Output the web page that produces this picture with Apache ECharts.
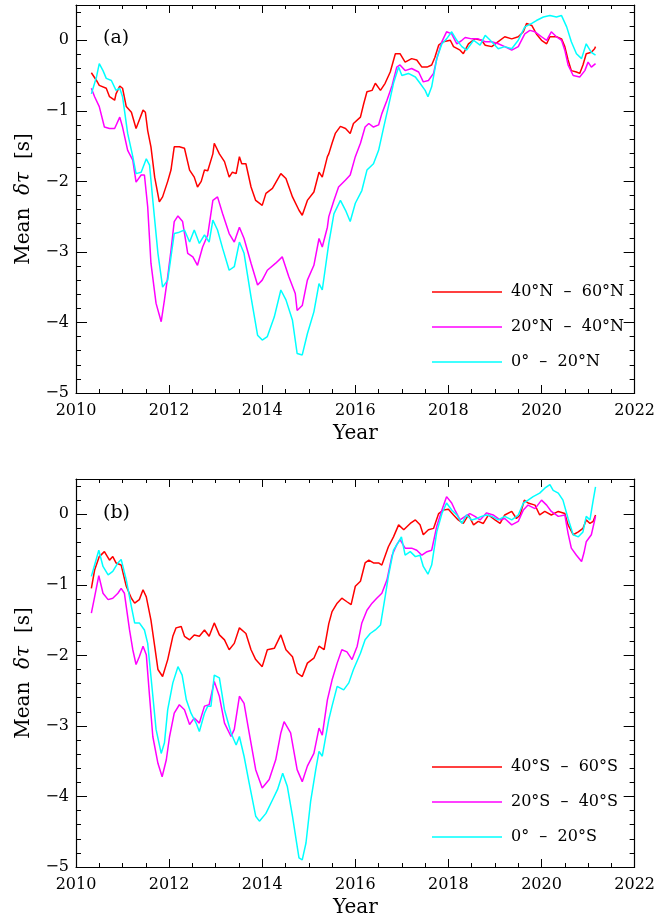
<!DOCTYPE html>
<html>
<head>
<meta charset="utf-8">
<script src="https://cdn.jsdelivr.net/npm/echarts@6/dist/echarts.min.js"></script>
<style>
  html, body { margin: 0; padding: 0; background: #fff; }
  #chart { width: 658px; height: 923px; }
</style>
</head>
<body>
<div id="chart"></div>
<script>
// Panel (a): northern hemisphere
const aRedX = [2010.33,2010.44,2010.5,2010.65,2010.72,2010.83,2010.86,2010.94,2011.0,2011.08,2011.19,2011.29,2011.36,2011.44,2011.49,2011.54,2011.61,2011.69,2011.79,2011.86,2011.97,2012.04,2012.11,2012.22,2012.33,2012.44,2012.54,2012.61,2012.69,2012.76,2012.83,2012.94,2012.97,2013.08,2013.19,2013.29,2013.36,2013.44,2013.51,2013.56,2013.65,2013.76,2013.86,2014.0,2014.08,2014.22,2014.4,2014.51,2014.65,2014.79,2014.86,2014.97,2015.11,2015.22,2015.29,2015.4,2015.43,2015.5,2015.57,2015.68,2015.79,2015.89,2015.96,2016.11,2016.18,2016.25,2016.36,2016.43,2016.54,2016.64,2016.75,2016.86,2016.96,2017.07,2017.21,2017.32,2017.43,2017.54,2017.64,2017.71,2017.79,2017.89,2018.04,2018.11,2018.25,2018.32,2018.43,2018.57,2018.71,2018.79,2018.93,2019.07,2019.21,2019.36,2019.5,2019.61,2019.68,2019.79,2019.89,2020.0,2020.11,2020.18,2020.32,2020.43,2020.5,2020.57,2020.64,2020.75,2020.82,2020.89,2020.96,2021.07,2021.14,2021.16];
const aRedY = [-0.46,-0.57,-0.64,-0.68,-0.80,-0.85,-0.76,-0.65,-0.68,-0.94,-1.02,-1.25,-1.13,-0.99,-1.02,-1.28,-1.51,-1.94,-2.29,-2.22,-2.0,-1.84,-1.51,-1.51,-1.53,-1.84,-1.94,-2.08,-2.0,-1.84,-1.85,-1.61,-1.46,-1.61,-1.72,-1.94,-1.87,-1.89,-1.65,-1.75,-1.75,-2.08,-2.27,-2.34,-2.17,-2.1,-1.89,-1.96,-2.22,-2.41,-2.48,-2.27,-2.15,-1.87,-1.94,-1.65,-1.61,-1.46,-1.32,-1.22,-1.25,-1.32,-1.18,-1.09,-0.90,-0.73,-0.71,-0.61,-0.71,-0.61,-0.45,-0.19,-0.19,-0.31,-0.26,-0.28,-0.38,-0.38,-0.35,-0.24,-0.07,-0.02,0,-0.09,-0.14,-0.19,-0.05,0.02,0,-0.07,-0.09,-0.02,0.05,0.02,0.05,0.12,0.24,0.21,0.09,0,-0.05,0.05,0.05,0.02,-0.09,-0.28,-0.43,-0.45,-0.47,-0.35,-0.19,-0.17,-0.12,-0.09];

const aMagX = [2010.33,2010.4,2010.5,2010.61,2010.72,2010.83,2010.94,2011.0,2011.11,2011.22,2011.29,2011.4,2011.47,2011.54,2011.61,2011.72,2011.83,2011.9,2011.97,2012.04,2012.11,2012.19,2012.29,2012.4,2012.51,2012.61,2012.72,2012.83,2012.94,2013.04,2013.15,2013.29,2013.4,2013.51,2013.61,2013.76,2013.9,2014.0,2014.11,2014.29,2014.43,2014.57,2014.71,2014.75,2014.86,2014.97,2015.11,2015.22,2015.29,2015.4,2015.43,2015.54,2015.64,2015.79,2015.89,2016.0,2016.11,2016.21,2016.29,2016.39,2016.5,2016.57,2016.68,2016.79,2016.89,2016.96,2017.07,2017.21,2017.36,2017.46,2017.57,2017.68,2017.75,2017.86,2017.96,2018.07,2018.18,2018.29,2018.36,2018.5,2018.64,2018.79,2018.93,2019.07,2019.21,2019.36,2019.5,2019.64,2019.75,2019.86,2020.0,2020.11,2020.21,2020.32,2020.43,2020.5,2020.57,2020.68,2020.82,2020.93,2021.0,2021.07,2021.16];
const aMagY = [-0.68,-0.80,-0.94,-1.23,-1.25,-1.25,-1.09,-1.23,-1.56,-1.70,-2.01,-1.91,-1.91,-2.36,-3.16,-3.73,-3.99,-3.68,-3.35,-2.98,-2.57,-2.49,-2.57,-3.02,-3.07,-3.19,-2.93,-2.76,-2.27,-2.22,-2.46,-2.74,-2.86,-2.65,-2.81,-3.16,-3.47,-3.40,-3.26,-3.16,-3.07,-3.35,-3.59,-3.83,-3.76,-3.40,-3.19,-2.81,-2.93,-2.65,-2.50,-2.27,-2.08,-1.98,-1.91,-1.65,-1.46,-1.23,-1.18,-1.23,-1.20,-1.04,-0.85,-0.64,-0.38,-0.35,-0.43,-0.40,-0.45,-0.59,-0.57,-0.47,-0.26,-0.02,0.12,0.09,-0.05,0,0.04,0.02,0.02,-0.02,-0.02,-0.05,-0.09,-0.14,-0.09,0.09,0.14,0.12,0.05,0,0.12,0.05,0,-0.14,-0.35,-0.50,-0.52,-0.43,-0.31,-0.38,-0.33];

const aCyanX = [2010.33,2010.44,2010.5,2010.58,2010.65,2010.76,2010.86,2010.94,2011.0,2011.11,2011.22,2011.29,2011.4,2011.51,2011.58,2011.65,2011.76,2011.86,2011.97,2012.04,2012.11,2012.22,2012.33,2012.44,2012.54,2012.65,2012.76,2012.86,2012.94,2013.04,2013.15,2013.29,2013.4,2013.51,2013.61,2013.76,2013.9,2014.0,2014.11,2014.26,2014.4,2014.51,2014.65,2014.75,2014.86,2014.97,2015.11,2015.22,2015.29,2015.4,2015.43,2015.54,2015.68,2015.79,2015.89,2016.0,2016.14,2016.25,2016.39,2016.5,2016.61,2016.71,2016.82,2016.93,2017.0,2017.14,2017.29,2017.39,2017.5,2017.56,2017.64,2017.75,2017.86,2017.96,2018.07,2018.18,2018.29,2018.39,2018.54,2018.68,2018.79,2018.93,2019.07,2019.21,2019.36,2019.5,2019.64,2019.79,2019.89,2020.04,2020.18,2020.32,2020.43,2020.54,2020.64,2020.75,2020.86,2020.96,2021.07,2021.16];
const aCyanY = [-0.76,-0.52,-0.33,-0.43,-0.54,-0.57,-0.71,-0.68,-0.80,-1.32,-1.65,-1.89,-1.87,-1.68,-1.77,-2.27,-3.02,-3.50,-3.40,-3.07,-2.74,-2.72,-2.69,-2.86,-2.69,-2.88,-2.76,-2.86,-2.55,-2.69,-2.95,-3.26,-3.21,-2.86,-3.02,-3.64,-4.18,-4.25,-4.20,-3.92,-3.54,-3.68,-3.97,-4.44,-4.46,-4.16,-3.85,-3.45,-3.54,-3.02,-2.88,-2.46,-2.27,-2.41,-2.57,-2.31,-2.13,-1.84,-1.75,-1.56,-1.23,-0.94,-0.61,-0.38,-0.50,-0.47,-0.52,-0.61,-0.71,-0.80,-0.66,-0.26,-0.05,0.02,0.12,0,-0.09,-0.14,0,-0.07,0.07,-0.02,-0.12,-0.09,-0.12,0,0.19,0.24,0.28,0.33,0.35,0.33,0.35,0.19,-0.02,-0.19,-0.26,-0.05,-0.17,-0.21];

// Panel (b): southern hemisphere
const bRedX = [2010.33,2010.4,2010.5,2010.61,2010.72,2010.79,2010.86,2010.97,2011.08,2011.19,2011.26,2011.36,2011.44,2011.51,2011.61,2011.69,2011.76,2011.86,2011.97,2012.08,2012.15,2012.26,2012.33,2012.44,2012.54,2012.65,2012.76,2012.86,2012.97,2013.08,2013.19,2013.29,2013.4,2013.51,2013.65,2013.76,2013.86,2014.0,2014.11,2014.26,2014.4,2014.51,2014.65,2014.75,2014.86,2014.97,2015.11,2015.22,2015.33,2015.43,2015.5,2015.61,2015.71,2015.82,2015.91,2016.0,2016.11,2016.21,2016.29,2016.39,2016.5,2016.57,2016.71,2016.82,2016.93,2017.04,2017.18,2017.29,2017.39,2017.46,2017.57,2017.68,2017.79,2017.89,2018.0,2018.11,2018.21,2018.32,2018.43,2018.54,2018.64,2018.75,2018.86,2019.0,2019.11,2019.21,2019.36,2019.46,2019.54,2019.63,2019.71,2019.86,2019.96,2020.07,2020.21,2020.36,2020.5,2020.57,2020.68,2020.79,2020.89,2020.96,2021.04,2021.11,2021.16];
const bRedY = [-1.05,-0.79,-0.60,-0.53,-0.65,-0.60,-0.69,-0.72,-1.02,-1.19,-1.26,-1.21,-1.07,-1.17,-1.50,-1.87,-2.20,-2.30,-2.06,-1.73,-1.61,-1.59,-1.73,-1.78,-1.71,-1.73,-1.64,-1.73,-1.54,-1.71,-1.78,-1.92,-1.83,-1.61,-1.69,-1.92,-2.06,-2.16,-1.92,-1.90,-1.71,-1.92,-2.02,-2.25,-2.30,-2.11,-2.04,-1.87,-1.92,-1.55,-1.38,-1.26,-1.19,-1.24,-1.28,-1.02,-0.95,-0.69,-0.65,-0.69,-0.69,-0.72,-0.46,-0.32,-0.15,-0.22,-0.13,-0.08,-0.15,-0.29,-0.22,-0.20,0.01,0.06,0.07,-0.01,-0.08,-0.13,-0.01,-0.15,-0.10,-0.13,-0.01,-0.08,-0.13,-0.01,0.04,-0.06,-0.01,0.20,0.16,0.13,-0.01,0.04,-0.01,0.04,0.01,-0.15,-0.29,-0.25,-0.20,-0.08,-0.13,-0.10,-0.01];

const bMagX = [2010.33,2010.4,2010.49,2010.58,2010.69,2010.79,2010.9,2010.97,2011.04,2011.15,2011.22,2011.29,2011.36,2011.44,2011.51,2011.58,2011.65,2011.76,2011.85,2011.94,2012.01,2012.11,2012.22,2012.33,2012.44,2012.54,2012.65,2012.76,2012.86,2012.97,2013.08,2013.19,2013.33,2013.4,2013.51,2013.61,2013.72,2013.86,2014.0,2014.15,2014.29,2014.4,2014.47,2014.61,2014.75,2014.86,2014.97,2015.11,2015.22,2015.29,2015.4,2015.5,2015.61,2015.71,2015.82,2015.93,2016.04,2016.14,2016.25,2016.36,2016.46,2016.57,2016.68,2016.79,2016.89,2016.96,2017.07,2017.21,2017.32,2017.43,2017.54,2017.64,2017.75,2017.86,2017.96,2018.07,2018.14,2018.25,2018.36,2018.46,2018.57,2018.68,2018.82,2018.96,2019.11,2019.21,2019.36,2019.5,2019.61,2019.71,2019.86,2020.0,2020.11,2020.21,2020.36,2020.5,2020.57,2020.64,2020.75,2020.86,2020.91,2020.96,2021.07,2021.16];
const bMagY = [-1.40,-1.17,-0.87,-1.12,-1.21,-1.19,-1.12,-1.05,-1.12,-1.64,-1.92,-2.13,-2.02,-1.87,-1.99,-2.58,-3.15,-3.53,-3.72,-3.48,-3.15,-2.82,-2.70,-2.77,-2.98,-2.89,-2.96,-2.72,-2.70,-2.37,-2.58,-2.96,-3.15,-3.05,-2.58,-2.68,-3.10,-3.62,-3.88,-3.76,-3.48,-3.10,-2.94,-3.10,-3.62,-3.79,-3.57,-3.39,-3.03,-3.13,-2.63,-2.35,-2.11,-1.92,-1.95,-2.06,-1.87,-1.54,-1.36,-1.26,-1.19,-1.12,-0.93,-0.58,-0.43,-0.36,-0.48,-0.48,-0.51,-0.58,-0.53,-0.51,-0.17,0.06,0.25,0.16,0.06,-0.08,-0.03,0.01,-0.03,-0.08,0.02,-0.01,-0.08,-0.06,-0.15,-0.10,0.06,0.13,0.08,0.20,0.13,0.04,-0.03,-0.01,-0.27,-0.48,-0.58,-0.67,-0.55,-0.39,-0.29,-0.03];

const bCyanX = [2010.33,2010.4,2010.49,2010.58,2010.69,2010.79,2010.9,2010.97,2011.08,2011.19,2011.26,2011.36,2011.47,2011.54,2011.61,2011.72,2011.83,2011.9,2011.97,2012.08,2012.19,2012.28,2012.37,2012.47,2012.58,2012.65,2012.76,2012.83,2012.9,2012.97,2013.08,2013.19,2013.33,2013.44,2013.51,2013.61,2013.72,2013.86,2013.94,2014.08,2014.22,2014.33,2014.44,2014.54,2014.65,2014.74,2014.79,2014.86,2014.94,2015.04,2015.15,2015.22,2015.29,2015.43,2015.5,2015.61,2015.75,2015.86,2015.96,2016.11,2016.21,2016.32,2016.43,2016.54,2016.64,2016.71,2016.82,2016.93,2016.99,2017.07,2017.18,2017.29,2017.39,2017.46,2017.56,2017.64,2017.75,2017.86,2017.96,2018.07,2018.18,2018.29,2018.39,2018.5,2018.61,2018.71,2018.82,2018.93,2019.07,2019.21,2019.36,2019.5,2019.61,2019.71,2019.82,2019.96,2020.07,2020.18,2020.25,2020.36,2020.46,2020.57,2020.68,2020.79,2020.89,2020.96,2021.04,2021.11,2021.16];
const bCyanY = [-0.88,-0.72,-0.51,-0.74,-0.86,-0.81,-0.69,-0.64,-0.93,-1.31,-1.54,-1.54,-1.64,-1.83,-2.30,-3.05,-3.39,-3.24,-2.77,-2.39,-2.16,-2.28,-2.63,-2.82,-2.96,-3.08,-2.82,-2.72,-2.72,-2.28,-2.32,-2.77,-3.10,-3.27,-3.15,-3.43,-3.81,-4.28,-4.35,-4.24,-4.05,-3.90,-3.67,-3.86,-4.28,-4.66,-4.87,-4.90,-4.66,-4.07,-3.62,-3.36,-3.43,-2.91,-2.72,-2.44,-2.49,-2.39,-2.20,-1.97,-1.78,-1.69,-1.64,-1.57,-1.17,-0.88,-0.51,-0.39,-0.32,-0.58,-0.53,-0.60,-0.58,-0.74,-0.85,-0.72,-0.25,0.01,0.16,0.06,-0.01,-0.13,-0.01,-0.08,-0.06,-0.03,-0.01,-0.03,-0.08,-0.03,-0.08,-0.01,0.16,0.20,0.25,0.30,0.37,0.42,0.34,0.30,0.20,-0.06,-0.29,-0.32,-0.25,-0.03,-0.08,0.20,0.39];

const namesA = ['40°N  –  60°N', '20°N  –  40°N', '0°  –  20°N'];
const namesB = ['40°S  –  60°S', '20°S  –  40°S', '0°  –  20°S'];
const colors = ['#ff0000', '#ff00ff', '#00ffff'];

const FONT = 'DejaVu Serif';
const pair = (xs, ys) => xs.map((x, i) => [x, ys[i]]);
const minusFmt = v => String(v).replace('-', '\u2212');

const grids = [
  { left: 76, right: 21, top: 5, height: 388 },
  { left: 76, right: 21, top: 479, height: 388 }
];

const xAxes = [], yAxes = [];
grids.forEach((g, gi) => {
  // bottom (labelled) and top x axes
  ['bottom', 'top'].forEach(pos => {
    xAxes.push({
      type: 'value', gridIndex: gi, position: pos, min: 2010, max: 2022, interval: 2,
      axisLine: { show: true, onZero: false, lineStyle: { color: '#000', width: 1.2 } },
      axisTick: { show: true, inside: true, length: 8, lineStyle: { color: '#000' } },
      minorTick: { show: true, splitNumber: 4, length: 4, lineStyle: { color: '#000' } },
      splitLine: { show: false },
      axisLabel: { show: pos === 'bottom', color: '#000', fontFamily: FONT, fontSize: 16, margin: 10, formatter: v => String(v) },
      name: pos === 'bottom' ? 'Year' : '',
      nameLocation: 'middle', nameGap: 31,
      nameTextStyle: { color: '#000', fontFamily: FONT, fontSize: 20 }
    });
  });
  // left/right major and minor y axes
  ['left', 'right'].forEach(pos => {
    yAxes.push({
      type: 'value', gridIndex: gi, position: pos, min: -5, max: 0.5, interval: 1,
      axisLine: { show: true, onZero: false, lineStyle: { color: '#000', width: 1.2 } },
      axisTick: { show: true, inside: true, length: 11, lineStyle: { color: '#000' } },
      splitLine: { show: false },
      axisLabel: { show: pos === 'left', showMaxLabel: false, color: '#000', fontFamily: FONT, fontSize: 16, margin: 7, formatter: minusFmt },
      name: pos === 'left' ? '{n|Mean  }{g|δτ}{n|  [s]}' : '',
      nameLocation: 'middle', nameGap: 42,
      nameTextStyle: { color: '#000', rich: {
        n: { fontFamily: FONT, fontSize: 20, color: '#000' },
        g: { fontFamily: FONT, fontSize: 20, fontStyle: 'italic', color: '#000' }
      } }
    });
    yAxes.push({
      type: 'value', gridIndex: gi, position: pos, min: -5, max: 0.5, interval: 0.2,
      axisLine: { show: false },
      axisTick: { show: true, inside: true, length: 5, lineStyle: { color: '#000' } },
      splitLine: { show: false },
      axisLabel: { show: false }
    });
  });
});

function mkSeries(name, xs, ys, ci, gi) {
  return {
    name, type: 'line', xAxisIndex: gi * 2, yAxisIndex: gi * 4,
    data: pair(xs, ys), showSymbol: false, symbol: 'none',
    lineStyle: { color: colors[ci], width: 1.5 }, itemStyle: { color: colors[ci] }
  };
}

const series = [
  mkSeries(namesA[0], aRedX, aRedY, 0, 0),
  mkSeries(namesA[1], aMagX, aMagY, 1, 0),
  mkSeries(namesA[2], aCyanX, aCyanY, 2, 0),
  mkSeries(namesB[0], bRedX, bRedY, 0, 1),
  mkSeries(namesB[1], bMagX, bMagY, 1, 1),
  mkSeries(namesB[2], bCyanX, bCyanY, 2, 1)
];

const legendBase = {
  orient: 'vertical', left: 427, icon: 'rect', itemWidth: 70, itemHeight: 1.5, itemGap: 15,
  selectedMode: false,
  textStyle: { color: '#000', fontFamily: FONT, fontSize: 16, lineHeight: 20, padding: [0, 0, 0, 4] }
};

const chart = echarts.init(document.getElementById('chart'), null, { renderer: 'canvas' });
chart.setOption({
  animation: false,
  backgroundColor: '#fff',
  title: [
    { text: '(a)', left: 98, top: 24, textStyle: { color: '#000', fontFamily: FONT, fontSize: 19, fontWeight: 'normal' } },
    { text: '(b)', left: 98, top: 499, textStyle: { color: '#000', fontFamily: FONT, fontSize: 19, fontWeight: 'normal' } }
  ],
  legend: [
    Object.assign({}, legendBase, { top: 277, data: namesA }),
    Object.assign({}, legendBase, { top: 752, data: namesB })
  ],
  grid: grids,
  xAxis: xAxes,
  yAxis: yAxes,
  series
});
</script>
</body>
</html>
